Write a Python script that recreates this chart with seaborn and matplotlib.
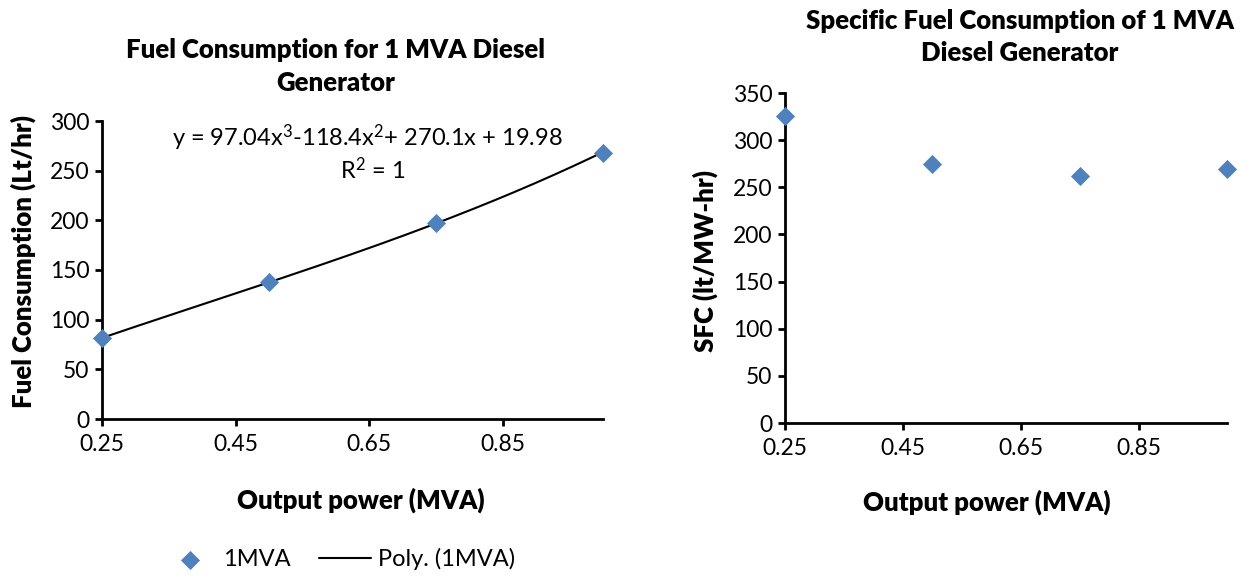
import numpy as np
import pandas as pd
import matplotlib
matplotlib.use("Agg")
import matplotlib.pyplot as plt
import seaborn as sns

# Generator loading points and measured consumption
output_mva = [0.25, 0.50, 0.75, 1.00]
fuel_lt_hr = [82, 138, 197, 268]
sfc_lt_mwhr = [326, 275, 262, 269]

# Cubic trendline coefficients (highest power first)
poly_coef = [97.04, -118.4, 270.1, 19.98]

x_ticks = [0.25, 0.45, 0.65, 0.85]
x_tick_labels = ["0.25", "0.45", "0.65", "0.85"]
fc_yticks = [0, 50, 100, 150, 200, 250, 300]
sfc_yticks = [0, 50, 100, 150, 200, 250, 300, 350]

series_name = "1MVA"
trend_name = "Poly. (1MVA)"
left_title = ["Fuel Consumption for 1 MVA Diesel", "Generator"]
right_title = ["Specific Fuel Consumption of 1 MVA", "Diesel Generator"]
x_label = "Output power (MVA)"
fc_label = "Fuel Consumption (Lt/hr)"
sfc_label = "SFC (lt/MW-hr)"
equation = r"y = 97.04x$^{\mathrm{3}}$-118.4x$^{\mathrm{2}}$+ 270.1x + 19.98"
r_squared = r"R$^{\mathrm{2}}$ = 1"

BLUE = "#4F81BD"
FONT = "Lato"

sns.set_theme(style="ticks")
plt.rcParams["font.family"] = [FONT, "DejaVu Sans"]
plt.rcParams.update({
    "mathtext.fontset": "custom",
    "mathtext.rm": FONT,
    "mathtext.it": FONT + ":italic",
    "mathtext.bf": FONT + ":bold",
    "axes.linewidth": 2.0,
    "axes.edgecolor": "black",
    "xtick.major.width": 2.0,
    "ytick.major.width": 2.0,
    "xtick.major.size": 5,
    "ytick.major.size": 5,
    "xtick.color": "black",
    "ytick.color": "black",
    "text.color": "black",
    "axes.labelcolor": "black",
})

W, H = 1247, 580
fig = plt.figure(figsize=(W / 100, H / 100), dpi=100)


def px_axes(x0, y0, x1, y1):
    return fig.add_axes([x0 / W, 1 - y1 / H, (x1 - x0) / W, (y1 - y0) / H])


ax1 = px_axes(102, 121, 603, 419)
ax2 = px_axes(785, 93, 1227, 423)

points = pd.DataFrame({"mva": output_mva, "fuel": fuel_lt_hr, "sfc": sfc_lt_mwhr})
curve_x = np.linspace(min(output_mva), max(output_mva), 200)
curve = pd.DataFrame({"mva": curve_x, "fuel": np.polyval(poly_coef, curve_x)})

# Left: fuel consumption with cubic trendline
sns.lineplot(data=curve, x="mva", y="fuel", color="black", linewidth=1.5,
             estimator=None, label=trend_name, ax=ax1, zorder=3)
sns.scatterplot(data=points, x="mva", y="fuel", marker="D", s=95, color=BLUE,
                linewidth=0, label=series_name, ax=ax1, zorder=5, clip_on=False)

# Right: specific fuel consumption
sns.scatterplot(data=points, x="mva", y="sfc", marker="D", s=95, color=BLUE,
                linewidth=0, ax=ax2, zorder=5, clip_on=False, legend=False)

for ax, yt in ((ax1, fc_yticks), (ax2, sfc_yticks)):
    sns.despine(ax=ax)
    ax.set_xlim(0.25, 1.0)
    ax.set_ylim(yt[0], yt[-1])
    ax.set_xticks(x_ticks)
    ax.set_xticklabels(x_tick_labels)
    ax.set_yticks(yt)
    ax.tick_params(axis="both", labelsize=16.5, direction="out")
    ax.tick_params(axis="x", pad=6)
    ax.tick_params(axis="y", pad=4)
    ax.set_facecolor("none")

ax1.text(0.647, 283, equation, ha="center", va="center", fontsize=17)
ax1.text(0.655, 251, r_squared, ha="center", va="center", fontsize=17)

lab_kw = dict(fontsize=18.5, fontweight="heavy", va="center", ha="center")
ax1.set_xlabel(x_label, **lab_kw)
ax1.xaxis.set_label_coords((361 - 102) / 501, (419 - 500) / 298)
ax1.set_ylabel(fc_label, **lab_kw)
ax1.yaxis.set_label_coords((23 - 102) / 501, (419 - 262) / 298)

ax2.set_xlabel(x_label, **lab_kw)
ax2.xaxis.set_label_coords((987 - 785) / 442, (423 - 502) / 330)
ax2.set_ylabel(sfc_label, **lab_kw)
ax2.yaxis.set_label_coords((705 - 785) / 442, (423 - 261) / 330)

# Chart titles
title_kw = dict(fontsize=18.5, fontweight="heavy", ha="center", va="center")
fig.text(336 / W, 1 - 50 / H, left_title[0], **title_kw)
fig.text(336 / W, 1 - 83 / H, left_title[1], **title_kw)
fig.text(1020 / W, 1 - 21 / H, right_title[0], **title_kw)
fig.text(1020 / W, 1 - 53 / H, right_title[1], **title_kw)

# Shared legend under the left chart
handles, labels = ax1.get_legend_handles_labels()
order = [labels.index(series_name), labels.index(trend_name)]
ax1.get_legend().remove()
fig.legend([handles[i] for i in order], [labels[i] for i in order],
           loc="center", bbox_to_anchor=(340 / W, 1 - 559 / H), ncol=2,
           frameon=False, fontsize=17, handlelength=2.2, handletextpad=0.3,
           columnspacing=1.2)

fig.savefig("out.png", dpi=100)
